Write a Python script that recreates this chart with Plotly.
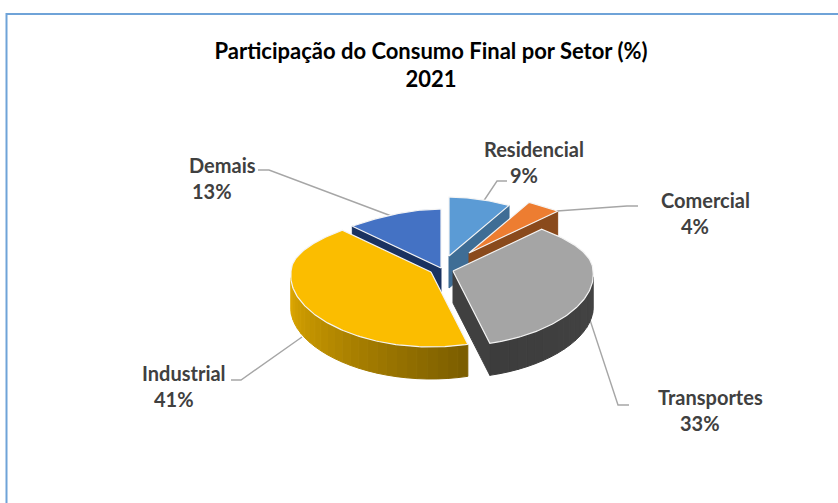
import math
import plotly.graph_objects as go

# ---- data ----
categories = ["Residencial", "Comercial", "Transportes", "Industrial", "Demais"]
values = [9, 4, 33, 41, 13]

# ---- style ----
top_colors = ["#5b9bd5", "#ed7d31", "#a5a5a5", "#fbbd00", "#4472c4"]
face_colors = ["#3f6d95", "#8a4a1c", "#404040", "#8f6d00", "#1a3260"]
wall_start = ["#3f6d95", "#8a4a1c", "#444444", "#dfa900", "#1a3260"]
wall_end = ["#3f6d95", "#8a4a1c", "#3c3c3c", "#7a5c00", "#1a3260"]
explode = {"Residencial": (8, -12), "Comercial": (28, -15), "Transportes": (12, 3),
           "Industrial": (-10, 4), "Demais": (0, 0)}
label_pos = {"Residencial": (534, 162), "Comercial": (705, 213), "Transportes": (710, 410),
             "Industrial": (184, 386), "Demais": (222, 178)}
leaders = {"Residencial": ([507, 497, 481], [181, 181, 205]),
           "Comercial": ([638, 627, 543], [206, 206, 212]),
           "Transportes": ([629, 618, 590], [405, 405, 320]),
           "Industrial": ([231, 241, 302], [380, 380, 337]),
           "Demais": ([258, 269, 394], [170, 170, 217])}
CX, CY, RX, RY, PERSP, DEPTH = 441, 268, 140, 66, 0.12, 32
TEXT = "#404040"
FONT = "Lato"


def project(name, deg):
    """Angle clockwise from 12 o'clock, on the rim of the tilted pie."""
    a = math.radians(deg)
    back = math.cos(a)
    py = 1 / (1 + PERSP * back)
    px = 1 - 0.28 * max(back, 0) ** 2 + 0.06 * max(-back, 0)
    dx, dy = explode[name]
    return CX + dx + RX * math.sin(a) * px, CY + dy - RY * back * py


def arc(name, a0, a1, n=None):
    n = n or max(2, int(abs(a1 - a0)) + 1)
    return [project(name, a0 + (a1 - a0) * i / (n - 1)) for i in range(n)]


def poly(fig, pts, fill, line=None, width=1.0, name=""):
    xs = [p[0] for p in pts] + [pts[0][0]]
    ys = [p[1] for p in pts] + [pts[0][1]]
    fig.add_trace(go.Scatter(x=xs, y=ys, mode="lines", fill="toself", fillcolor=fill,
                             line=dict(color=line or fill, width=width),
                             hoverinfo="skip", name=name))


def mix(c0, c1, t):
    a = [int(c0[i:i + 2], 16) for i in (1, 3, 5)]
    b = [int(c1[i:i + 2], 16) for i in (1, 3, 5)]
    return "#%02x%02x%02x" % tuple(round(u + (v - u) * t) for u, v in zip(a, b))


fig = go.Figure()

# leader lines under everything
for name in categories:
    lx, ly = leaders[name]
    fig.add_trace(go.Scatter(x=lx, y=ly, mode="lines", line=dict(color="#a6a6a6", width=1.4),
                             hoverinfo="skip", name=name + " leader"))

# slice angles from the values
total = sum(values)
spans = {}
acc = 0
for name, v in zip(categories, values):
    spans[name] = (acc / total * 360, (acc + v) / total * 360)
    acc += v

# painter's order, back to front
for name in ["Residencial", "Comercial", "Demais", "Transportes", "Industrial"]:
    i = categories.index(name)
    a0, a1 = spans[name]
    apex = (CX + explode[name][0], CY + explode[name][1])
    down = lambda p: (p[0], p[1] + DEPTH)
    # cut faces that look towards the viewer
    if math.sin(math.radians(a1)) > 0:
        r = project(name, a1)
        poly(fig, [apex, r, down(r), down(apex)], face_colors[i], name=name + " face")
    if math.sin(math.radians(a0)) < 0:
        r = project(name, a0)
        poly(fig, [apex, r, down(r), down(apex)], face_colors[i], name=name + " face")
    # outer wall, front part only, stepped for the shading
    lo, hi = max(a0, 95), min(a1, 265)
    if hi > lo:
        steps = int((hi - lo) / 4) + 1
        for s in range(steps):
            b0 = lo + (hi - lo) * s / steps
            b1 = lo + (hi - lo) * (s + 1) / steps
            rim = arc(name, b0, b1, 4)
            t = (s + 0.5) / steps
            if name == "Industrial":
                t = 1 - t
            poly(fig, rim + [down(p) for p in reversed(rim)],
                 mix(wall_start[i], wall_end[i], t), name=name + " wall")
    # top surface
    poly(fig, [apex] + arc(name, a0, a1), top_colors[i], line="#f4f4f4", width=1.2, name=name)

annotations = []
for name, v in zip(categories, values):
    x, y = label_pos[name]
    annotations.append(dict(x=x, y=y - 13, xref="x", yref="y", showarrow=False,
                            text=f"<b>{name}</b>", align="center",
                            font=dict(family=FONT, size=20, color=TEXT)))
    annotations.append(dict(x=x - 10, y=y + 13, xref="x", yref="y", showarrow=False,
                            text=f"<b>{v}%</b>", align="center",
                            font=dict(family=FONT, size=20, color=TEXT)))

fig.update_layout(
    width=838, height=503, margin=dict(l=0, r=0, t=0, b=0),
    paper_bgcolor="white", plot_bgcolor="white", showlegend=False,
    title=dict(text="<b>Participação do Consumo Final por Setor (%)<br>2021</b>",
               x=431 / 838, xanchor="center", y=1 - 58.5 / 503, yanchor="top",
               font=dict(family=FONT, size=22, color="#000000")),
    xaxis=dict(range=[0, 838], visible=False, fixedrange=True),
    yaxis=dict(range=[503, 0], visible=False, fixedrange=True),
    annotations=annotations,
    shapes=[dict(type="rect", xref="x", yref="y", x0=6.5, y0=14, x1=900, y1=560,
                 line=dict(color="#6fa3d8", width=2), layer="below")],
)
fig.write_html("out.html", config={"displayModeBar": False},
               post_script="document.body.style.margin='0';")
